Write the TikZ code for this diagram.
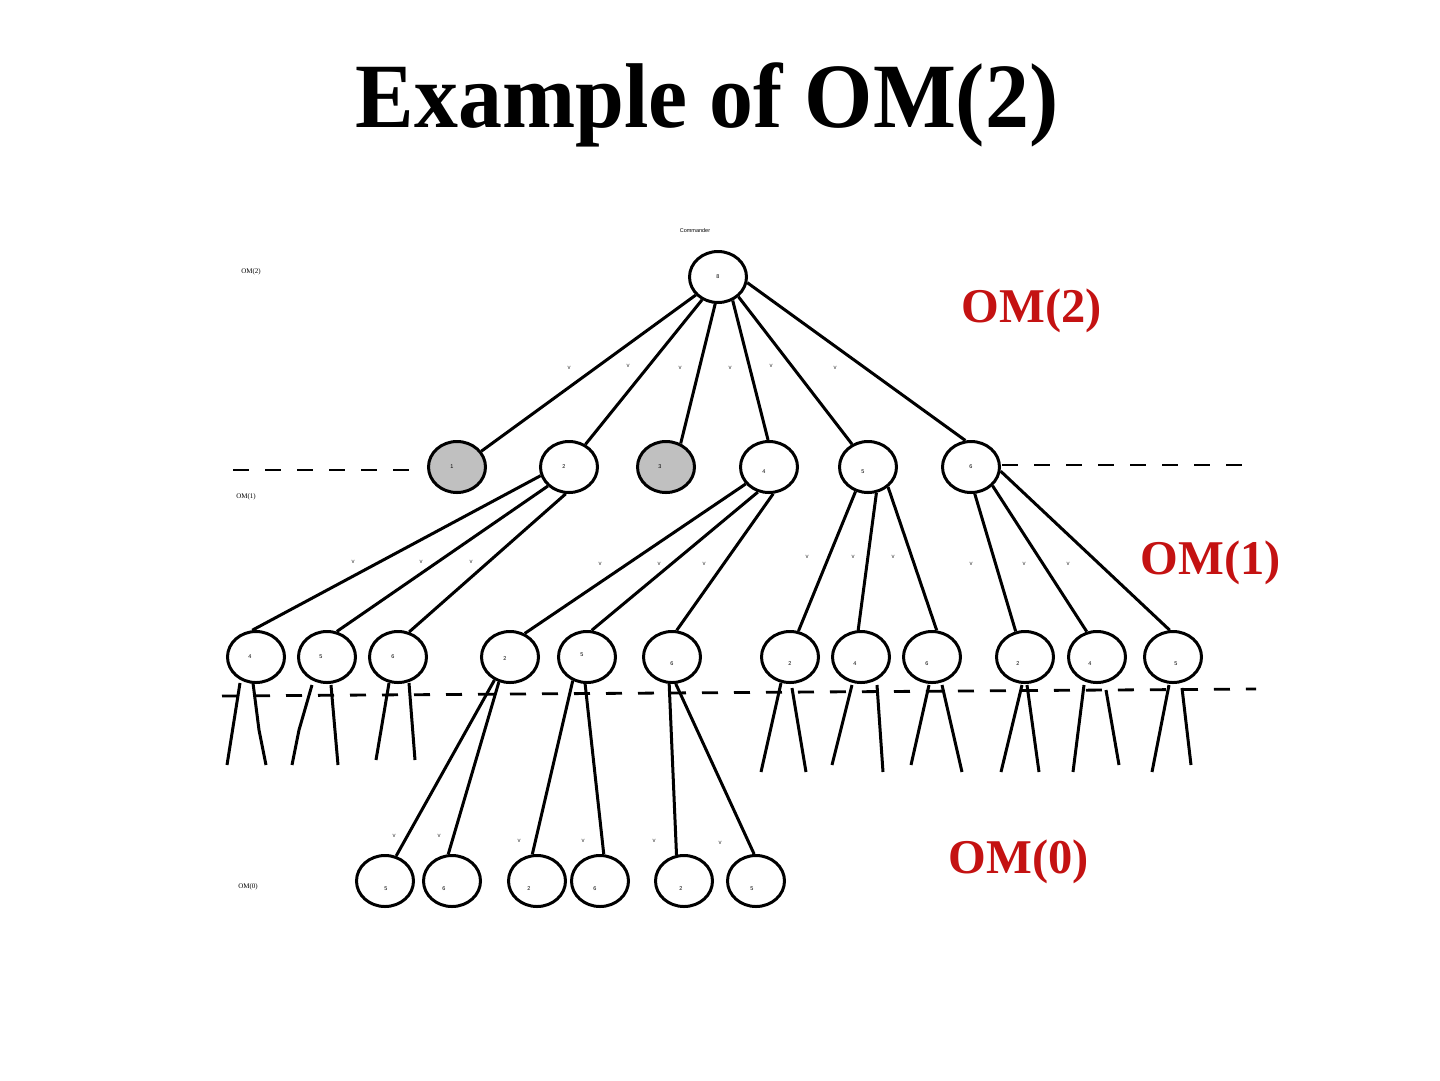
\documentclass[tikz,border=0pt]{standalone}
\usepackage{fontspec}
\setmainfont{Liberation Serif}
\setsansfont{Liberation Sans}
\usetikzlibrary{shapes.geometric,calc}
\definecolor{omred}{RGB}{196,18,18}
\definecolor{nodegray}{RGB}{192,192,192}
\begin{document}
\begin{tikzpicture}[x=1pt,y=-1pt,
  nd/.style={ellipse,draw,line width=3pt,minimum width=57pt,minimum height=51pt,inner sep=0pt,fill=white},
  gr/.style={nd,fill=nodegray},
  ed/.style={line width=3pt},
  lbl/.style={font=\sffamily\fontsize{5.5}{5.5}\selectfont,inner sep=0pt},
  vv/.style={font=\sffamily\fontsize{6}{6}\selectfont,text=black!80,inner sep=0pt},
  dsh/.style={line width=2.8pt,dash pattern=on 16pt off 16pt},
  big/.style={font=\bfseries\fontsize{48.5}{48.5}\selectfont,text=omred,inner sep=0pt,anchor=base},
  sm/.style={font=\fontsize{7}{7}\selectfont,inner sep=0pt}]
\path[fill=white] (0,0) rectangle (1440,1080);
\useasboundingbox (0,0) rectangle (1440,1080);

% title
\node[font=\bfseries\fontsize{92}{92}\selectfont,xscale=0.955,inner sep=0pt,anchor=base] (title) at (707,127) {Example of OM(2)};

% side labels
\node[big] (t2) at (1032,322) {OM(2)};
\node[big] (t1) at (1211,574) {OM(1)};
\node[big] (t0) at (1019,873) {OM(0)};
\node[sm] (s2) at (251,272) {OM(2)};
\node[sm] (s1) at (246,497) {OM(1)};
\node[sm] (s0) at (248,887) {OM(0)};
\node[font=\sffamily\fontsize{5.5}{5.5}\selectfont,inner sep=0pt] (cmd) at (695,231) {Commander};

% dashed separators
\coordinate (d1a) at (233,470); \coordinate (d1b) at (415,470);
\coordinate (d2a) at (1002,465); \coordinate (d2b) at (1256,465);
\coordinate (d3a) at (222,696); \coordinate (d3b) at (1256,689);

% root
\node[nd,label={[lbl]center:8}] (r) at (718,277) {};
% level 1
\node[gr,label={[lbl,xshift=-5pt]center:1}] (n1) at (457,467) {};
\node[nd,label={[lbl,xshift=-5pt]center:2}] (n2) at (569,467) {};
\node[gr,label={[lbl,xshift=-6pt]center:3}] (n3) at (666,467) {};
\node[nd,label={[lbl,xshift=-5pt,yshift=-5pt]center:4}] (n4) at (769,467) {};
\node[nd,label={[lbl,xshift=-5pt,yshift=-5pt]center:5}] (n5) at (868,467) {};
\node[nd,label={[lbl]center:6}] (n6) at (971,467) {};
% level 2
\node[nd,label={[lbl,xshift=-6pt]center:4}] (a) at (256,657) {};
\node[nd,label={[lbl,xshift=-6pt]center:5}] (b) at (327,657) {};
\node[nd,label={[lbl,xshift=-5pt]center:6}] (c) at (398,657) {};
\node[nd,label={[lbl,xshift=-5pt,yshift=-2pt]center:2}] (d) at (510,657) {};
\node[nd,label={[lbl,xshift=-5pt,yshift=2pt]center:5}] (e) at (587,657) {};
\node[nd,label={[lbl,yshift=-7pt]center:6}] (f) at (672,657) {};
\node[nd,label={[lbl,yshift=-7pt]center:2}] (g) at (790,657) {};
\node[nd,label={[lbl,xshift=-6pt,yshift=-7pt]center:4}] (h) at (861,657) {};
\node[nd,label={[lbl,xshift=-5pt,yshift=-7pt]center:6}] (i) at (932,657) {};
\node[nd,label={[lbl,xshift=-7pt,yshift=-7pt]center:2}] (j) at (1025,657) {};
\node[nd,label={[lbl,xshift=-7pt,yshift=-7pt]center:4}] (k) at (1097,657) {};
\node[nd,label={[lbl,xshift=3pt,yshift=-7pt]center:5}] (l) at (1173,657) {};
% level 3
\node[nd,label={[lbl,xshift=1pt,yshift=-8pt]center:5}] (m1) at (385,881) {};
\node[nd,label={[lbl,xshift=-8pt,yshift=-8pt]center:6}] (m2) at (452,881) {};
\node[nd,label={[lbl,xshift=-8pt,yshift=-8pt]center:2}] (m3) at (537,881) {};
\node[nd,label={[lbl,xshift=-5pt,yshift=-8pt]center:6}] (m4) at (600,881) {};
\node[nd,label={[lbl,xshift=-3pt,yshift=-8pt]center:2}] (m5) at (684,881) {};
\node[nd,label={[lbl,xshift=-4pt,yshift=-8pt]center:5}] (m6) at (756,881) {};

% root edges
\draw[ed] (r.219) -- (n1.33);
\draw[ed] (r.235) -- (n2.54);
\draw[ed] (r.264) -- (n3.58);
\draw[ed] (r.302) -- (n4.92);
\draw[ed] (r.316) -- (n5.125);
\draw[ed] (r.349) -- (n6.102);
% level 1 -> 2
\draw[ed] (n2.197) -- (a.98);
\draw[ed] (n2.222) -- (b.69);
\draw[ed] (n2.263) -- (c.66);
\draw[ed] (n4.216) -- (d.58);
\draw[ed] (n4.246) -- (e.80);
\draw[ed] (n4.279) -- (f.80);
\draw[ed] (n5.243) -- (g.72);
\draw[ed] (n5.288) -- (h.96);
\draw[ed] (n5.315) -- (i.80);
\draw[ed] (n6.278) -- (j.110);
\draw[ed] (n6.319) -- (k.112);
\draw[ed] (n6.352) -- (l.97);
% level 2 -> 3
\draw[ed] (d.236) -- (m1.66);
\draw[ed] (d.246) -- (m2.98);
\draw[ed] (e.239) -- (m3.100);
\draw[ed] (e.266) -- (m4.82);
\draw[ed] (f.264) -- (m5.106);
\draw[ed] (f.278) -- (m6.94);

% stubs
\coordinate (sa1) at (227,765); \coordinate (sa2k) at (259,730); \coordinate (sa2) at (266,765);
\coordinate (sb1k) at (299,730); \coordinate (sb1) at (292,765); \coordinate (sb2) at (338,765);
\coordinate (sc1) at (376,760); \coordinate (sc2) at (415,760);
\coordinate (sg1) at (761,772); \coordinate (sg2) at (806,772);
\coordinate (sh1) at (832,765); \coordinate (sh2) at (883,772);
\coordinate (si1) at (911,765); \coordinate (si2) at (962,772);
\coordinate (sj1) at (1001,772); \coordinate (sj2) at (1039,772);
\coordinate (sk1) at (1073,772); \coordinate (sk2) at (1119,765);
\coordinate (sl1) at (1152,772); \coordinate (sl2) at (1191,765);
\draw[ed] ($(a)+(-16,26)$) -- (sa1);
\draw[ed] ($(a)+(-3,26)$) -- (sa2k) -- (sa2);
\draw[ed] ($(b)+(-15,28)$) -- (sb1k) -- (sb1);
\draw[ed] ($(b)+(4,28)$) -- (sb2);
\draw[ed] ($(c)+(-9,26)$) -- (sc1);
\draw[ed] ($(c)+(11,26)$) -- (sc2);
\draw[ed] ($(g)+(-9,26)$) -- (sg1);
\draw[ed] ($(g)+(2,31)$) -- (sg2);
\draw[ed] ($(h)+(-9,28)$) -- (sh1);
\draw[ed] ($(h)+(16,28)$) -- (sh2);
\draw[ed] ($(i)+(-3,28)$) -- (si1);
\draw[ed] ($(i)+(10,28)$) -- (si2);
\draw[ed] ($(j)+(-3,28)$) -- (sj1);
\draw[ed] ($(j)+(2,28)$) -- (sj2);
\draw[ed] ($(k)+(-13,28)$) -- (sk1);
\draw[ed] ($(k)+(9,33)$) -- (sk2);
\draw[ed] ($(l)+(-4,28)$) -- (sl1);
\draw[ed] ($(l)+(9,31)$) -- (sl2);

% dashed lines
\draw[dsh] (d1a) -- (d1b);
\draw[dsh] (d2a) -- (d2b);
\draw[dsh] (d3a) -- (d3b);

% v labels
\foreach \x/\y [count=\q] in {569/368,628/366,680/368,730/368,771/366,835/368,
  353/562,421/562,471/562,600/564,659/564,704/564,807/557,853/557,893/557,971/564,1024/564,1068/564,
  394/836,439/836,519/841,583/841,654/841,720/843}
  \node[vv] (v\q) at (\x,\y) {v};
\end{tikzpicture}
\end{document}
